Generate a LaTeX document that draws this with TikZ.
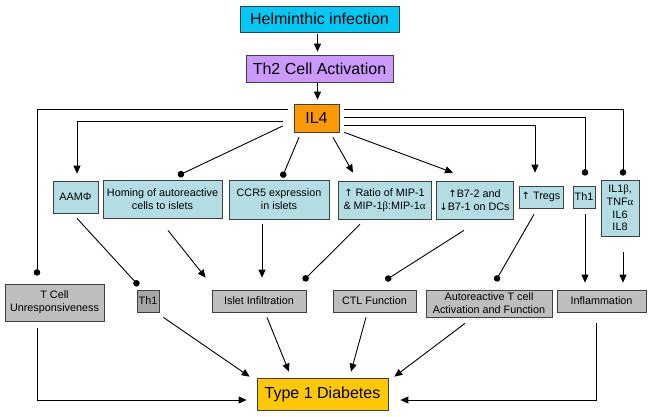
\documentclass[tikz,border=0pt]{standalone}
\usepackage{fontspec}
\setmainfont{Liberation Sans}
\newfontfamily\grk{Liberation Serif}
\newfontfamily\arrfont{DejaVu Sans}
\usetikzlibrary{arrows.meta}
\definecolor{cyanbox}{HTML}{00C8F5}
\definecolor{purplebox}{HTML}{CC99FF}
\definecolor{orangebox}{HTML}{FF9900}
\definecolor{bluebox}{HTML}{B3DDE2}
\definecolor{graybox}{HTML}{BEBEBE}
\definecolor{darkgraybox}{HTML}{A6A6A6}
\definecolor{yellowbox}{HTML}{FFC800}
\newcommand{\upar}{{\arrfont\fontsize{10}{12}\selectfont ↑}}
\newcommand{\downar}{{\arrfont\fontsize{10}{12}\selectfont ↓}}
\begin{document}
\begin{tikzpicture}[x=1pt,y=-1pt,
 box/.style={draw=black!75, line width=0.7pt, inner sep=0pt, align=center, font=\fontsize{10.8}{12.8}\selectfont},
 big/.style={box, font=\fontsize{16}{18}\selectfont},
 blue/.style={box, fill=bluebox},
 gray/.style={box, fill=graybox},
 ln/.style={line width=0.9pt},
 arr/.style={ln, -{Triangle[length=8pt,width=7pt]}},
 dotl/.style={ln, -{Circle[length=6.5pt]}}]
\useasboundingbox (0,0) rectangle (651,416);

% top chain
\node[big, fill=cyanbox, minimum width=159, minimum height=26] (helm) at (319.5,19) {Helminthic infection};
\node[big, fill=purplebox, minimum width=147, minimum height=27] (th2) at (319.5,68.5) {Th2 Cell Activation};
\node[big, fill=orangebox, minimum width=45, minimum height=28] (il4) at (316.5,118) {IL4};

% second row
\node[blue, minimum width=45, minimum height=32] (aam) at (75.5,197) {AAM{Φ}};
\node[blue, minimum width=119, minimum height=38] (homing) at (162.5,199) {Homing of autoreactive\\cells to islets};
\node[blue, minimum width=100, minimum height=39] (ccr5) at (279,199.5) {CCR5 expression\\in islets};
\node[blue, minimum width=93, minimum height=38] (ratio) at (384.5,200) {\upar\ Ratio of MIP-1\\\& MIP-1{\grk β}:MIP-1{\grk α}};
\node[blue, minimum width=77, minimum height=38] (b7) at (474.5,200) {\upar B7-2 and\\\downar B7-1 on DCs};
\node[blue, minimum width=44, minimum height=22] (tregs) at (541,197) {\upar\ Tregs};
\node[blue, minimum width=22, minimum height=22] (th1a) at (584,197) {Th1};
\node[blue, minimum width=38, minimum height=56] (ilbox) at (620,208) {IL1{\grk β},\\TNF{\grk α}\\IL6\\IL8};

% third row
\node[gray, minimum width=99, minimum height=37] (tcell) at (54.5,302.5) {T Cell\\Unresponsiveness};
\node[box, fill=darkgraybox, minimum width=22, minimum height=22] (th1b) at (148,301) {Th1};
\node[gray, minimum width=94, minimum height=22] (islet) at (259,301) {Islet Infiltration};
\node[gray, minimum width=83, minimum height=22] (ctl) at (374.5,301) {CTL Function};
\node[gray, minimum width=126, minimum height=27] (auto) at (489,303.5) {Autoreactive T cell\\Activation and Function};
\node[gray, minimum width=89, minimum height=22] (infl) at (601.5,301) {Inflammation};

% bottom
\node[big, fill=yellowbox, minimum width=131, minimum height=32] (t1d) at (322.5,394) {Type 1 Diabetes};

% top connectors
\draw[arr] ([shift={(-2,2)}]helm.south) -- ([shift={(-2,-3)}]th2.north);
\draw[arr] ([shift={(-2,1)}]th2.south) -- ([shift={(1,-4)}]il4.north);

% from IL4, left
\draw[dotl] ([shift={(-6,-9)}]il4.west) -| ([shift={(-17.5,-8)}]tcell.north);
\draw[arr] ([shift={(-11,3)}]il4.west) -| ([shift={(1.5,-7)}]aam.north);
\draw[dotl] ([shift={(-11,8)}]il4.west) -- ([shift={(15.5,-4)}]homing.north);
\draw[dotl] ([shift={(-17.5,5)}]il4.south) -- ([shift={(3,-2)}]ccr5.north);
\draw[arr] ([shift={(16.5,5)}]il4.south) -- ([shift={(-31.5,-8)}]ratio.north);
\draw[arr] ([shift={(5,0)}]il4.south east) -- ([shift={(-21.5,-8)}]b7.north);

% from IL4, right
\draw[arr] ([shift={(5,7)}]il4.east) -| ([shift={(-6,-13)}]tregs.north);
\draw[dotl] ([shift={(5,-1)}]il4.east) -| ([shift={(1,-10)}]th1a.north);
\draw[dotl] ([shift={(5,-9)}]il4.east) -| ([shift={(3,-4)}]ilbox.north);

% second row to third row
\draw[dotl] ([shift={(1.5,5)}]aam.south) -- ([shift={(2,-4)}]th1b.north west);
\draw[arr] ([shift={(5.5,12)}]homing.south) -- ([shift={(-6,-12)}]islet.north west);
\draw[arr] ([shift={(-17,5)}]ccr5.south) -- ([shift={(3,-12)}]islet.north);
\draw[dotl] ([shift={(-24.5,5)}]ratio.south) -- ([shift={(-3,-9)}]islet.north east);
\draw[dotl] ([shift={(-10.5,11)}]b7.south) -- ([shift={(11,-9.4)}]ctl.north);
\draw[dotl] ([shift={(-7,6)}]tregs.south) -- ([shift={(6.5,-8.4)}]auto.north);
\draw[arr] ([shift={(1,6)}]th1a.south) -- ([shift={(-16.5,-7)}]infl.north);
\draw[arr] ([shift={(3,16)}]ilbox.south) -- ([shift={(21.5,-7)}]infl.north);

% third row to T1D
\draw[arr] ([shift={(-17.5,7)}]tcell.south) |- ([shift={(-10,6)}]t1d.west);
\draw[arr] ([shift={(4,5)}]th1b.south east) -- ([shift={(-7,-1)}]t1d.north west);
\draw[arr] ([shift={(8,5)}]islet.south) -- ([shift={(-33.5,-6)}]t1d.north);
\draw[arr] ([shift={(-8.5,5)}]ctl.south) -- ([shift={(28.5,-6)}]t1d.north);
\draw[arr] ([shift={(-24,6)}]auto.south) -- ([shift={(6,-1)}]t1d.north east);
\draw[arr] ([shift={(-5.5,11)}]infl.south) |- ([shift={(12,6)}]t1d.east);
\end{tikzpicture}
\end{document}
